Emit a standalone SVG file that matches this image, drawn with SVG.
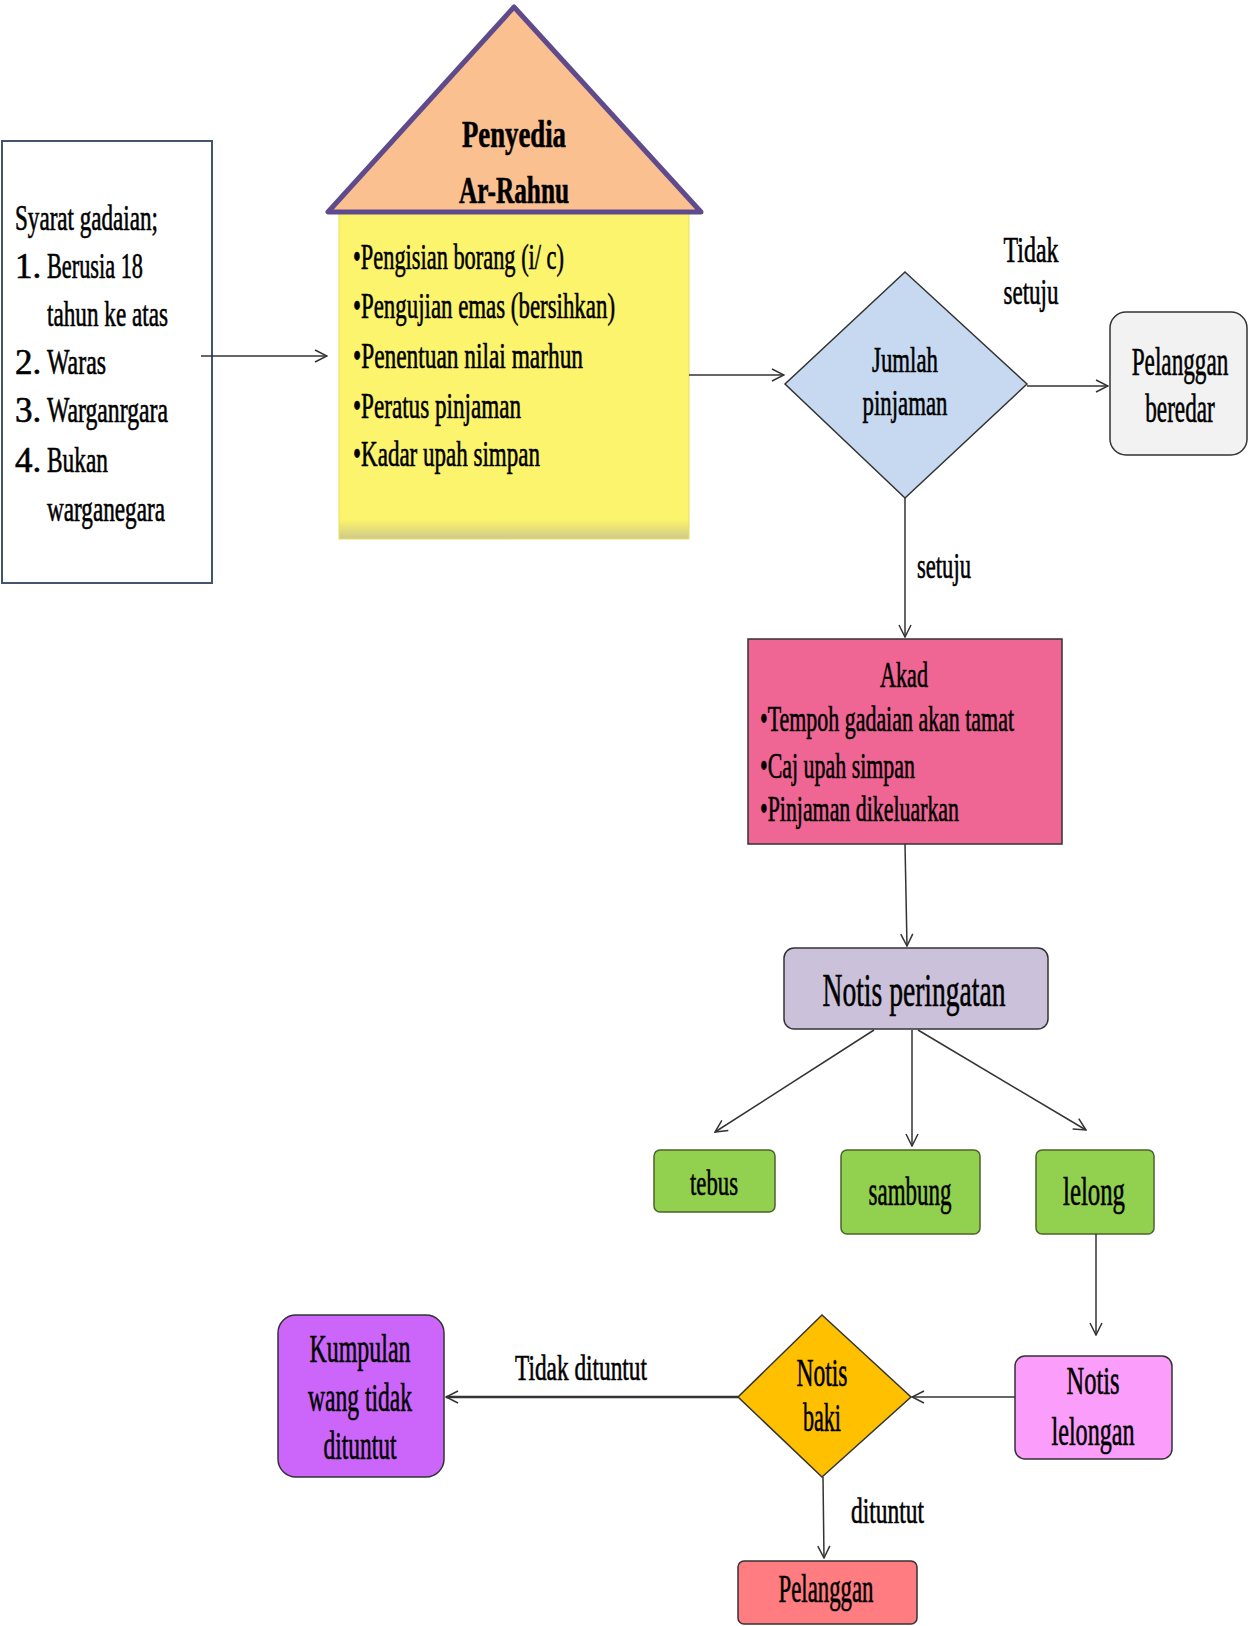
<svg xmlns="http://www.w3.org/2000/svg" width="1254" height="1626" viewBox="0 0 1254 1626">
<defs>
<marker id="arr" viewBox="0 0 14 14" refX="13" refY="7" markerWidth="14" markerHeight="14" markerUnits="userSpaceOnUse" orient="auto">
<path d="M1,1 L13,7 L1,13" fill="none" stroke="#333" stroke-width="1.5"/>
</marker>
<linearGradient id="ysh" x1="0" y1="0" x2="0" y2="1">
<stop offset="0" stop-color="#fbf46c"/>
<stop offset="0.94" stop-color="#fbf46c"/>
<stop offset="1" stop-color="#cfc98a"/>
</linearGradient>
</defs>
<style>
text{font-family:"Liberation Serif","Times New Roman",serif;fill:#000;stroke:#000;stroke-width:0.6}
.t{font-size:35px}
.m{font-size:40px}
.b{font-size:38px;font-weight:bold}
.big{font-size:46px}
.c{text-anchor:middle}
.box{stroke:#333;stroke-width:1.5}
.con line{stroke:#333;stroke-width:1.5;marker-end:url(#arr)}
</style>
<rect width="1254" height="1626" fill="#fff"/>

<g id="syarat">
<rect x="2" y="141" width="210" height="442" fill="#fff" stroke="#44546a" stroke-width="2"/>
<text class="t" x="15" y="230" textLength="143" lengthAdjust="spacingAndGlyphs">Syarat gadaian;</text>
<text class="t" x="15" y="278">1.</text>
<text class="t" x="47" y="278" textLength="96" lengthAdjust="spacingAndGlyphs">Berusia 18</text>
<text class="t" x="47" y="326" textLength="121" lengthAdjust="spacingAndGlyphs">tahun ke atas</text>
<text class="t" x="15" y="374">2.</text>
<text class="t" x="47" y="374" textLength="59" lengthAdjust="spacingAndGlyphs">Waras</text>
<text class="t" x="15" y="422">3.</text>
<text class="t" x="47" y="422" textLength="121" lengthAdjust="spacingAndGlyphs">Warganrgara</text>
<text class="t" x="15" y="472">4.</text>
<text class="t" x="47" y="472" textLength="61" lengthAdjust="spacingAndGlyphs">Bukan</text>
<text class="t" x="47" y="521" textLength="118" lengthAdjust="spacingAndGlyphs">warganegara</text>
</g>

<g id="penyedia">
<rect x="339" y="213" width="350" height="326" fill="url(#ysh)" stroke="#e8e060" stroke-width="1"/>
<polygon points="514,7 328,212 701,212" fill="#fac090" stroke="#5f4b8b" stroke-width="5" stroke-linejoin="round"/>
<text class="b c" x="514" y="147" textLength="104" lengthAdjust="spacingAndGlyphs">Penyedia</text>
<text class="b c" x="514" y="203" textLength="110" lengthAdjust="spacingAndGlyphs">Ar-Rahnu</text>
<text class="t" x="353" y="269" textLength="211" lengthAdjust="spacingAndGlyphs">•Pengisian borang (i/ c)</text>
<text class="t" x="353" y="318" textLength="262" lengthAdjust="spacingAndGlyphs">•Pengujian emas (bersihkan)</text>
<text class="t" x="353" y="368" textLength="230" lengthAdjust="spacingAndGlyphs">•Penentuan nilai marhun</text>
<text class="t" x="353" y="418" textLength="168" lengthAdjust="spacingAndGlyphs">•Peratus pinjaman</text>
<text class="t" x="353" y="466" textLength="187" lengthAdjust="spacingAndGlyphs">•Kadar upah simpan</text>
</g>

<g id="jumlah">
<polygon points="905,272 1027,384 905,498 785,384" fill="#c6d9f1" class="box"/>
<text class="t c" x="905" y="372" textLength="66" lengthAdjust="spacingAndGlyphs">Jumlah</text>
<text class="t c" x="905" y="415" textLength="85" lengthAdjust="spacingAndGlyphs">pinjaman</text>
</g>

<g id="beredar">
<rect x="1110" y="312" width="137" height="143" rx="16" fill="#f2f2f2" class="box"/>
<g transform="translate(1180,0) scale(0.58,1)">
<text class="m c" x="0" y="375">Pelanggan</text>
<text class="m c" x="0" y="422">beredar</text>
</g>
</g>

<g id="akad">
<rect x="748" y="639" width="314" height="205" fill="#ef6695" class="box"/>
<text class="t c" x="904" y="687" textLength="48" lengthAdjust="spacingAndGlyphs">Akad</text>
<text class="t" x="760" y="731" textLength="254" lengthAdjust="spacingAndGlyphs">•Tempoh gadaian akan tamat</text>
<text class="t" x="760" y="778" textLength="155" lengthAdjust="spacingAndGlyphs">•Caj upah simpan</text>
<text class="t" x="760" y="821" textLength="199" lengthAdjust="spacingAndGlyphs">•Pinjaman dikeluarkan</text>
</g>

<g id="notis-peringatan">
<rect x="784" y="948" width="264" height="81" rx="10" fill="#ccc1da" class="box"/>
<text class="big c" x="914" y="1006" textLength="183" lengthAdjust="spacingAndGlyphs">Notis peringatan</text>
</g>

<g id="tebus">
<rect x="654" y="1150" width="121" height="62" rx="6" fill="#92d050" stroke="#4f6228" stroke-width="1.5"/>
<text class="t c" x="714" y="1195" textLength="48" lengthAdjust="spacingAndGlyphs">tebus</text>
</g>
<g id="sambung">
<rect x="841" y="1150" width="139" height="84" rx="6" fill="#92d050" stroke="#4f6228" stroke-width="1.5"/>
<text class="m c" x="910" y="1205" textLength="83" lengthAdjust="spacingAndGlyphs">sambung</text>
</g>
<g id="lelong">
<rect x="1036" y="1150" width="118" height="84" rx="6" fill="#92d050" stroke="#4f6228" stroke-width="1.5"/>
<text class="m c" x="1094" y="1205" textLength="62" lengthAdjust="spacingAndGlyphs">lelong</text>
</g>

<g id="notis-lelongan">
<rect x="1015" y="1356" width="157" height="103" rx="10" fill="#fb9dfb" class="box"/>
<text class="m c" x="1093" y="1394" textLength="53" lengthAdjust="spacingAndGlyphs">Notis</text>
<text class="m c" x="1093" y="1445" textLength="83" lengthAdjust="spacingAndGlyphs">lelongan</text>
</g>

<g id="notis-baki">
<polygon points="822,1315 911,1397 822,1477 738,1397" fill="#ffc000" class="box"/>
<text class="m c" x="822" y="1386" textLength="51" lengthAdjust="spacingAndGlyphs">Notis</text>
<text class="m c" x="822" y="1431" textLength="38" lengthAdjust="spacingAndGlyphs">baki</text>
</g>

<g id="kumpulan">
<rect x="278" y="1315" width="166" height="162" rx="18" fill="#cc66fa" class="box"/>
<text class="m c" x="360" y="1362" textLength="101" lengthAdjust="spacingAndGlyphs">Kumpulan</text>
<text class="m c" x="360" y="1411" textLength="104" lengthAdjust="spacingAndGlyphs">wang tidak</text>
<text class="m c" x="360" y="1459" textLength="73" lengthAdjust="spacingAndGlyphs">dituntut</text>
</g>

<g id="pelanggan">
<rect x="738" y="1561" width="179" height="63" rx="6" fill="#ff7c80" class="box"/>
<text class="m c" x="826" y="1602" textLength="95" lengthAdjust="spacingAndGlyphs">Pelanggan</text>
</g>

<g id="connectors" class="con">
<line x1="201" y1="356" x2="327" y2="356"/>
<line x1="689" y1="375" x2="784" y2="375"/>
<line x1="1027" y1="386" x2="1108" y2="386"/>
<line x1="905" y1="498" x2="905" y2="637"/>
<line x1="905" y1="844" x2="907" y2="946"/>
<line x1="874" y1="1030" x2="715" y2="1132"/>
<line x1="912" y1="1030" x2="912" y2="1146"/>
<line x1="918" y1="1030" x2="1086" y2="1130"/>
<line x1="1096" y1="1234" x2="1096" y2="1335"/>
<line x1="1015" y1="1397" x2="912" y2="1397"/>
<line x1="738" y1="1397" x2="446" y2="1397" style="stroke-width:2.5"/>
<line x1="823" y1="1477" x2="824" y2="1558"/>
</g>

<g id="labels">
<text class="t c" x="1031" y="262" textLength="55" lengthAdjust="spacingAndGlyphs">Tidak</text>
<text class="t c" x="1031" y="304" textLength="55" lengthAdjust="spacingAndGlyphs">setuju</text>
<text class="t" x="917" y="578" textLength="54" lengthAdjust="spacingAndGlyphs">setuju</text>
<text class="t" x="515" y="1380" textLength="132" lengthAdjust="spacingAndGlyphs">Tidak dituntut</text>
<text class="t" x="851" y="1523" textLength="73" lengthAdjust="spacingAndGlyphs">dituntut</text>
</g>
</svg>
